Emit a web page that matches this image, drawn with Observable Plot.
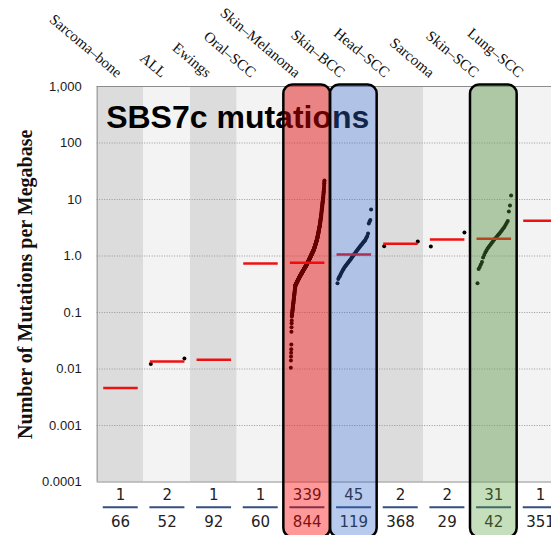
<!DOCTYPE html>
<html><head><meta charset="utf-8">
<script src="https://cdn.jsdelivr.net/npm/d3@7"></script>
<script src="https://cdn.jsdelivr.net/npm/@observablehq/plot@0.6"></script>
<style>html,body{margin:0;padding:0;background:#fff;overflow:hidden}</style>
</head><body><div id="chart"></div>
<script>
const categories = ["Sarcoma–bone","ALL","Ewings","Oral–SCC","Skin–Melanoma","Skin–BCC","Head–SCC","Sarcoma","Skin–SCC","Lung–SCC"];
const numerators = [1,2,1,1,339,45,2,2,31,1];
const denominators = [66,52,92,60,844,119,368,29,42,351];
const medians = [0.0046,0.0136,0.0146,0.74,0.76,1.06,1.64,1.96,2.01,4.2];
const highlightCats = ["Skin–Melanoma","Skin–BCC","Skin–SCC"];
const highlightFills = ["rgba(255,0,0,0.4)","rgba(51,102,204,0.35)","rgba(90,160,60,0.35)"];
const yTicks = [0.0001,0.001,0.01,0.1,1,10,100,1000];
const yTickLabels = ["0.0001","0.001","0.01","0.1","1.0","10","100","1,000"];
const gridValues = [0.001,0.01,0.1,1,10,100];

// per-sample values (only categories with >1 sample show dots)
const samplesALL = [0.0122,0.0154];
const samplesHeadSCC = [1.49,1.81];
const samplesSarcoma = [1.47,2.61];
const samplesSkinBCC = [0.33,0.39,0.42,0.44,0.47,0.5,0.53,0.565,0.59,0.625,0.65,0.68,0.71,0.74,0.77,0.8,0.83,0.87,0.9,0.95,0.99,1.03,1.08,1.12,1.18,1.23,1.28,1.33,1.39,1.44,1.5,1.57,1.62,1.69,1.75,1.83,1.88,2.0,2.12,2.26,2.5,3.76,4.08,4.34,6.65];
const samplesSkinSCC = [0.33,0.59,0.64,0.71,0.78,0.94,1.04,1.15,1.25,1.36,1.44,1.53,1.63,1.73,1.84,1.96,2.07,2.17,2.31,2.43,2.55,2.71,2.89,3.07,3.26,3.54,3.84,4.16,6.13,7.83,11.8];
const samplesSkinMelanoma = [
0.0105,0.0141,0.0166,0.0194,0.0224,0.0272,0.0455,0.055,0.0647,0.0722,
0.085,0.0881,0.0913,0.0947,0.0981,0.102,0.106,0.109,0.113,0.118,0.122,0.126,0.131,0.136,0.141,0.146,0.151,0.157,0.163,0.169,0.175,0.181,0.188,0.195,0.202,0.21,0.217,0.225,0.233,0.242,0.251,0.26,0.27,0.28,0.29,0.301,
0.303,0.306,0.308,0.311,0.313,0.316,0.318,0.321,0.323,0.326,0.329,0.331,0.334,0.337,0.34,0.342,0.345,0.348,0.351,0.354,0.357,0.36,0.363,0.366,0.369,0.372,0.375,0.378,0.381,0.384,0.387,0.39,0.393,0.397,0.4,0.403,0.407,0.41,0.413,0.417,0.42,0.424,0.427,0.431,0.434,
0.437,0.44,0.443,0.446,0.449,0.452,0.456,0.459,0.462,0.465,0.469,0.472,0.475,0.479,0.482,0.486,0.489,0.493,0.496,0.5,0.503,0.507,0.51,0.514,0.518,0.521,0.525,0.529,0.532,0.536,0.54,0.544,0.548,0.551,0.555,0.559,0.563,0.567,0.571,0.575,0.579,0.583,0.588,0.592,0.596,0.6,0.604,0.609,0.613,0.617,0.622,0.626,0.631,0.635,0.64,0.644,0.649,0.653,0.658,0.663,0.668,0.672,0.677,0.682,0.687,0.692,0.696,0.701,0.706,0.711,0.717,0.721,0.727,0.732,0.737,0.742,0.747,0.753,0.758,
0.764,0.771,0.778,0.784,0.791,0.798,0.805,0.812,0.819,0.826,0.833,0.84,0.848,0.855,0.862,0.87,0.877,0.885,0.893,0.9,0.908,0.916,0.924,0.932,0.94,0.948,0.956,0.964,0.972,0.981,0.989,0.998,
1.007,1.015,1.024,1.033,1.042,1.051,1.06,1.069,1.078,1.088,1.097,1.107,1.116,1.126,1.136,1.145,1.155,1.165,1.175,1.186,1.196,1.206,1.217,1.227,1.238,1.248,1.259,1.27,1.281,1.292,1.303,
1.32,1.338,1.356,1.374,1.392,1.411,1.43,1.448,1.468,1.487,1.507,1.527,1.547,1.568,1.589,1.61,1.632,1.653,1.675,1.698,1.72,1.743,1.766,1.79,1.813,1.838,1.862,1.887,1.912,1.938,1.963,1.99,2.016,
2.058,2.101,2.146,2.191,2.237,2.284,2.333,2.382,2.432,2.483,2.535,2.589,2.643,2.699,2.756,2.814,2.873,2.934,2.996,3.059,3.123,3.189,3.256,3.325,3.395,3.466,
3.568,3.673,3.782,3.894,4.009,4.127,4.249,4.375,4.504,4.637,4.774,4.915,5.06,5.21,
5.406,5.61,5.823,6.043,6.271,6.508,6.753,7.008,7.273,7.548,7.832,
8.1,8.38,8.67,8.97,9.28,9.59,9.92,10.27,10.62,10.98,
11.5,12.1,12.7,13.4,14.0,14.7,15.5,16.6,18.1,19.4,20.7,21.7];
const sampleSets = [[], samplesALL, [], [], samplesSkinMelanoma, samplesSkinBCC, samplesHeadSCC, samplesSarcoma, samplesSkinSCC, []];

const cols = categories.map((c, i) => ({
  cat: c, i, num: numerators[i], den: denominators[i], median: medians[i],
  hl: highlightCats.indexOf(c)
}));
const dots = [];
sampleSets.forEach((s, i) => {
  const sorted = s.slice().sort((a, b) => a - b);
  const n = sorted.length;
  sorted.forEach((v, k) => dots.push({pos: i + 0.15 + 0.72 * (n > 1 ? k / (n - 1) : 0.5), value: v}));
});
const boxTop = 1063, boxBottom = 1.04e-5;

const chart = Plot.plot({
  width: 551, height: 535,
  marginLeft: 96.67, marginRight: 0, marginTop: 86, marginBottom: 53.5,
  x: {type: "linear", domain: [0, 10], range: [96.67, 563.33], axis: null},
  y: {type: "log", domain: [1e-4, 1000], range: [481.5, 86], axis: null},
  style: {fontFamily: "DejaVu Sans", background: "white", overflow: "hidden"},
  marks: [
    Plot.rect(cols, {x1: "i", x2: d => d.i + 1, y1: 1e-4, y2: 1000, fill: d => d.i % 2 === 0 ? "#dcdcdc" : "#f3f3f3"}),
    Plot.ruleY(gridValues, {y: d => d, stroke: "#9a9a9a", strokeWidth: 1, strokeDasharray: "1,1.5"}),
    Plot.ruleY([1e-4, 1000], {y: d => d, stroke: "#8c8c8c"}),
    Plot.ruleX([0], {x: d => d, stroke: "#8c8c8c"}),
    Plot.dot(dots, {x: "pos", y: "value", r: 2, fill: "black", stroke: "none"}),
    Plot.ruleY(cols, {y: "median", x1: d => d.i + 0.14, x2: d => d.i + 0.88, stroke: "#ee1111", strokeWidth: 2.5}),
    Plot.text(["SBS7c mutations"], {text: d => d, frameAnchor: "top-left", dx: 9, dy: 41, textAnchor: "start", lineAnchor: "bottom", fontSize: 32, fontWeight: "bold", fontFamily: "Liberation Sans", fill: "#000"}),
    Plot.text(["Number of Mutations per Megabase"], {text: d => d, frameAnchor: "left", rotate: -90, dx: -71.5, textAnchor: "middle", lineAnchor: "middle", fontSize: 20, fontWeight: "bold", fontFamily: "Liberation Serif", fill: "#111"}),
    Plot.text(yTicks, {x: 0, y: d => d, text: (d, i) => yTickLabels[i], textAnchor: "end", dx: -15.5, fontSize: 13, fontFamily: "Liberation Sans", fill: "#1a1a1a"}),
    Plot.text(cols, {x: d => d.i * 0.956 + 0.485, y: 1000, text: "cat", rotate: 40, textAnchor: "end", dy: -12, fontSize: 15, fontFamily: "Liberation Serif", fill: "#111"}),
    Plot.text(cols, {x: d => d.i + 0.5, y: 1e-4, text: "num", dy: 13.5, fontSize: 15, fontFamily: "DejaVu Sans", fill: "#222"}),
    Plot.text(cols, {x: d => d.i + 0.5, y: 1e-4, text: "den", dy: 40.5, fontSize: 15, fontFamily: "DejaVu Sans", fill: "#222"}),
    Plot.ruleY(cols, {y: 1e-4, x1: d => d.i + 0.13, x2: d => d.i + 0.88, dy: 25.2, stroke: "#34507e", strokeWidth: 2}),
    Plot.rect(cols.filter(d => d.hl >= 0), {x1: "i", x2: d => d.i + 1, y1: boxBottom, y2: boxTop, fill: d => highlightFills[d.hl], stroke: "black", strokeWidth: 2.5, rx: 9})
  ]
});
document.getElementById("chart").appendChild(chart);
</script>
</body></html>
